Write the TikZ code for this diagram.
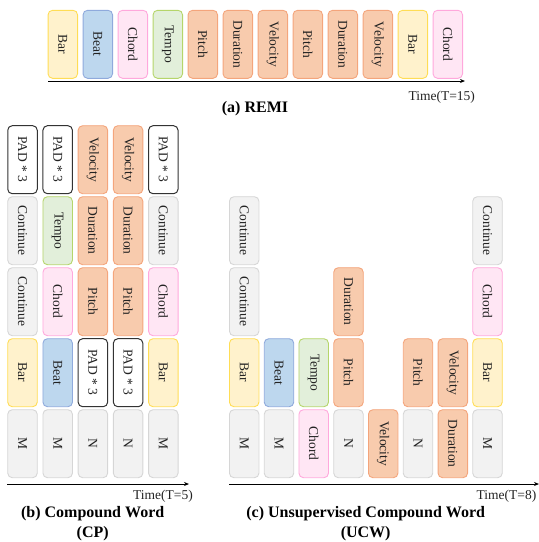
\documentclass[tikz,border=0pt]{standalone}
\usepackage{fontspec}
\setmainfont{Liberation Serif}
\usetikzlibrary{arrows.meta}
\definecolor{barF}{HTML}{FFF2CC}\definecolor{barD}{HTML}{FFDD55}
\definecolor{beatF}{HTML}{BDD7EE}\definecolor{beatD}{HTML}{8FAADC}
\definecolor{chordF}{HTML}{FFE6F4}\definecolor{chordD}{HTML}{FFA8DC}
\definecolor{tempoF}{HTML}{E2EFDA}\definecolor{tempoD}{HTML}{B5D56A}
\definecolor{noteF}{HTML}{F8CBAD}\definecolor{noteD}{HTML}{F4A57C}
\definecolor{grayF}{HTML}{F2F2F2}\definecolor{grayD}{HTML}{D6D6D6}
\definecolor{padD}{HTML}{333333}
\definecolor{txt}{HTML}{222222}
\newcommand\tk[4]{\node[#1] (#2) at (#3) {#4};}
\begin{document}
\begin{tikzpicture}[x=1pt,y=-1pt,
  tok/.style={draw, rounded corners=4.5pt, line width=0.9pt, rotate=-90,
    minimum width=68pt, minimum height=29.5pt, inner sep=0pt,
    font=\fontsize{13.5}{15}\selectfont, text=txt},
  tBar/.style={tok, fill=barF, draw=barD},
  tBeat/.style={tok, fill=beatF, draw=beatD},
  tChord/.style={tok, fill=chordF, draw=chordD},
  tTempo/.style={tok, fill=tempoF, draw=tempoD},
  tNote/.style={tok, fill=noteF, draw=noteD},
  tGray/.style={tok, fill=grayF, draw=grayD},
  tPad/.style={tok, fill=white, draw=padD, line width=1pt},
  axisline/.style={line width=1pt, black, -{Stealth[length=5pt,width=4pt]}},
  timelbl/.style={font=\fontsize{13.5}{15}\selectfont, text=txt, inner sep=0pt},
  caption/.style={font=\bfseries\fontsize{16}{20}\selectfont, align=center, inner sep=0pt}
]
\useasboundingbox (0,0) rectangle (539,542);

% ---------- (a) REMI ----------
\tk{tBar}{r0}{62.8,44.3}{Bar}
\tk{tBeat}{r1}{97.8,44.3}{Beat}
\tk{tChord}{r2}{132.8,44.3}{Chord}
\tk{tTempo}{r3}{167.8,44.3}{Tempo}
\tk{tNote}{r4}{202.8,44.3}{Pitch}
\tk{tNote}{r5}{237.8,44.3}{Duration}
\tk{tNote}{r6}{272.8,44.3}{Velocity}
\tk{tNote}{r7}{307.8,44.3}{Pitch}
\tk{tNote}{r8}{342.8,44.3}{Duration}
\tk{tNote}{r9}{377.8,44.3}{Velocity}
\tk{tBar}{r10}{412.8,44.3}{Bar}
\tk{tChord}{r11}{447.8,44.3}{Chord}
\coordinate (aS) at (48,81);
\coordinate (aE) at (465,81);
\draw[axisline] (aS) -- (aE);
\node[timelbl] (aT) at (441.7,97.5) {Time(T=15)};
\node[caption] (aC) at (255,108.5) {(a) REMI};

% ---------- (b) CP ----------
\tk{tPad}{b11}{22.5,159.7}{PAD * 3}
\tk{tGray}{b12}{22.5,230.7}{Continue}
\tk{tGray}{b13}{22.5,301.7}{Continue}
\tk{tBar}{b14}{22.5,372.7}{Bar}
\tk{tGray}{b15}{22.5,443.7}{M}

\tk{tPad}{b21}{57.7,159.7}{PAD * 3}
\tk{tTempo}{b22}{57.7,230.7}{Tempo}
\tk{tChord}{b23}{57.7,301.7}{Chord}
\tk{tBeat}{b24}{57.7,372.7}{Beat}
\tk{tGray}{b25}{57.7,443.7}{M}

\tk{tNote}{b31}{92.9,159.7}{Velocity}
\tk{tNote}{b32}{92.9,230.7}{Duration}
\tk{tNote}{b33}{92.9,301.7}{Pitch}
\tk{tPad}{b34}{92.9,372.7}{PAD * 3}
\tk{tGray}{b35}{92.9,443.7}{N}

\tk{tNote}{b41}{128.1,159.7}{Velocity}
\tk{tNote}{b42}{128.1,230.7}{Duration}
\tk{tNote}{b43}{128.1,301.7}{Pitch}
\tk{tPad}{b44}{128.1,372.7}{PAD * 3}
\tk{tGray}{b45}{128.1,443.7}{N}

\tk{tPad}{b51}{163.3,159.7}{PAD * 3}
\tk{tGray}{b52}{163.3,230.7}{Continue}
\tk{tChord}{b53}{163.3,301.7}{Chord}
\tk{tBar}{b54}{163.3,372.7}{Bar}
\tk{tGray}{b55}{163.3,443.7}{M}

\coordinate (bS) at (7,484);
\coordinate (bE) at (189,484);
\draw[axisline] (bS) -- (bE);
\node[timelbl] (bT) at (163,496.5) {Time(T=5)};
\node[caption] (bC) at (92.7,523.5) {(b) Compound Word\\(CP)};

% ---------- (c) UCW ----------
\tk{tGray}{c12}{244.2,230.7}{Continue}
\tk{tGray}{c13}{244.2,301.7}{Continue}
\tk{tBar}{c14}{244.2,372.7}{Bar}
\tk{tGray}{c15}{244.2,443.7}{M}

\tk{tBeat}{c24}{279.0,372.7}{Beat}
\tk{tGray}{c25}{279.0,443.7}{M}

\tk{tTempo}{c34}{313.7,372.7}{Tempo}
\tk{tChord}{c35}{313.7,443.7}{Chord}

\tk{tNote}{c43}{348.5,301.7}{Duration}
\tk{tNote}{c44}{348.5,372.7}{Pitch}
\tk{tGray}{c45}{348.5,443.7}{N}

\tk{tNote}{c55}{383.2,443.7}{Velocity}

\tk{tNote}{c64}{418.0,372.7}{Pitch}
\tk{tGray}{c65}{418.0,443.7}{N}

\tk{tNote}{c74}{452.8,372.7}{Velocity}
\tk{tNote}{c75}{452.8,443.7}{Duration}

\tk{tGray}{c82}{487.5,230.7}{Continue}
\tk{tChord}{c83}{487.5,301.7}{Chord}
\tk{tBar}{c84}{487.5,372.7}{Bar}
\tk{tGray}{c85}{487.5,443.7}{M}

\coordinate (cS) at (229,484);
\coordinate (cE) at (539,484);
\draw[axisline] (cS) -- (cE);
\node[timelbl] (cT) at (506.5,496.5) {Time(T=8)};
\node[caption] (cC) at (365.7,523.5) {(c) Unsupervised Compound Word\\(UCW)};
\end{tikzpicture}
\end{document}
